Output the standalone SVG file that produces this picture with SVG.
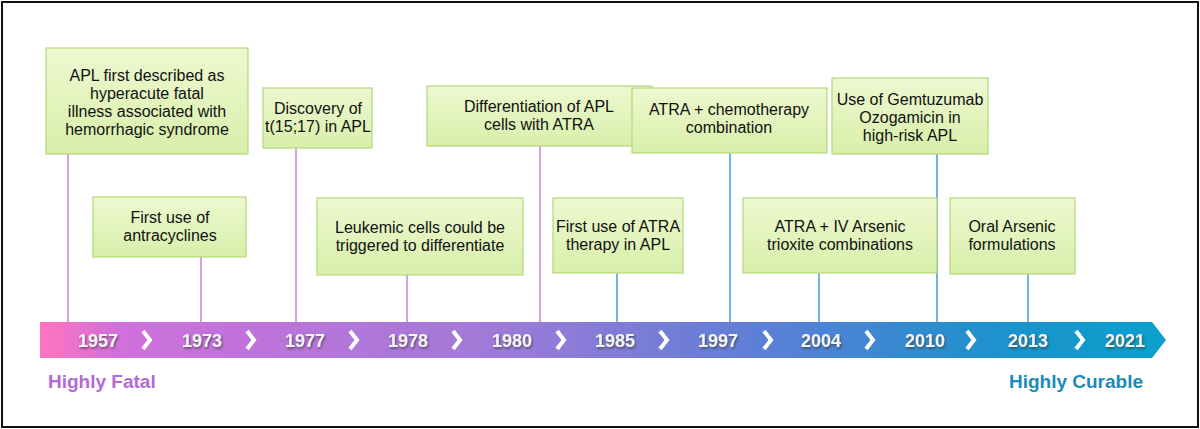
<svg xmlns="http://www.w3.org/2000/svg" width="1200" height="429" viewBox="0 0 1200 429">
<defs>
<linearGradient id="bar" x1="0" x2="1" y1="0" y2="0">
<stop offset="0" stop-color="#ff74c0"/><stop offset="0.07" stop-color="#d070dc"/><stop offset="0.4" stop-color="#a07ad8"/><stop offset="0.65" stop-color="#5a7fd6"/><stop offset="0.85" stop-color="#1c92cc"/><stop offset="1" stop-color="#0aa0cc"/>
</linearGradient>
<linearGradient id="box" x1="0" x2="0" y1="0" y2="1">
<stop offset="0" stop-color="#eef8d0"/><stop offset="1" stop-color="#d8efaa"/>
</linearGradient>
<filter id="sh" x="-10%" y="-20%" width="130%" height="150%"><feDropShadow dx="1" dy="1.5" stdDeviation="1" flood-color="#333" flood-opacity="0.7"/></filter>
</defs>
<style>
.b{fill:url(#box);stroke:#b2d87a;stroke-width:1.2}
.t{font-family:"Liberation Sans",Arial,sans-serif;font-size:16px;fill:#111;text-anchor:middle}
.y{font-family:"Liberation Sans",Arial,sans-serif;font-size:18px;font-weight:bold;fill:#f4f4f4;text-anchor:middle;filter:url(#sh)}
.c{fill:none;stroke:#fff;stroke-width:4}
.p{stroke:#c084e0;stroke-width:1.5}
.q{stroke:#4a9ad8;stroke-width:1.5}
</style>
<rect x="2" y="2" width="1196" height="425" fill="#fff" stroke="#111" stroke-width="2"/>
<g id="connectors">
<line class="p" x1="68" y1="154" x2="68" y2="322"/>
<line class="p" x1="201" y1="257" x2="201" y2="322"/>
<line class="p" x1="296" y1="148" x2="296" y2="322"/>
<line class="p" x1="407" y1="275" x2="407" y2="322"/>
<line class="p" x1="540" y1="146" x2="540" y2="322"/>
<line class="q" x1="617" y1="273" x2="617" y2="322"/>
<line class="q" x1="730" y1="153" x2="730" y2="322"/>
<line class="q" x1="819" y1="273" x2="819" y2="322"/>
<line class="q" x1="937" y1="154" x2="937" y2="322"/>
<line class="q" x1="1028" y1="274" x2="1028" y2="322"/>
</g>
<g id="timeline">
<polygon points="40,322 1152,322 1166,340 1152,358 40,358" fill="url(#bar)"/>
<g class="y">
<text x="98" y="347">1957</text><text x="202" y="347">1973</text><text x="305" y="347">1977</text><text x="408" y="347">1978</text><text x="512" y="347">1980</text><text x="615" y="347">1985</text><text x="718" y="347">1997</text><text x="821" y="347">2004</text><text x="925" y="347">2010</text><text x="1028" y="347">2013</text><text x="1125" y="347">2021</text>
</g>
<g class="c">
<polyline points="143,331 150,340 143,349"/><polyline points="247,331 254,340 247,349"/><polyline points="350,331 357,340 350,349"/><polyline points="453,331 460,340 453,349"/><polyline points="557,331 564,340 557,349"/><polyline points="660,331 667,340 660,349"/><polyline points="764,331 771,340 764,349"/><polyline points="866,331 873,340 866,349"/><polyline points="967,331 974,340 967,349"/><polyline points="1076,331 1083,340 1076,349"/>
</g>
<text x="48" y="388" font-family="Liberation Sans,Arial,sans-serif" font-size="19" font-weight="bold" fill="#b469d4">Highly Fatal</text>
<text x="1143" y="388" font-family="Liberation Sans,Arial,sans-serif" font-size="19" font-weight="bold" fill="#1a8ab8" text-anchor="end">Highly Curable</text>
</g>
<g id="n1"><rect class="b" x="46" y="48" width="202" height="106"/><text class="t" x="147" y="81">APL first described as</text><text class="t" x="147" y="99">hyperacute fatal</text><text class="t" x="147" y="117">illness associated with</text><text class="t" x="147" y="135">hemorrhagic syndrome</text></g>
<g id="n2"><rect class="b" x="93" y="197" width="153" height="60"/><text class="t" x="170" y="223">First use of</text><text class="t" x="170" y="241">antracyclines</text></g>
<g id="n3"><rect class="b" x="263" y="88" width="109" height="60"/><text class="t" x="318" y="114">Discovery of</text><text class="t" x="318" y="132">t(15;17) in APL</text></g>
<g id="n4"><rect class="b" x="317" y="198" width="206" height="77"/><text class="t" x="420" y="233">Leukemic cells could be</text><text class="t" x="420" y="251">triggered to differentiate</text></g>
<g id="n5"><rect class="b" x="427" y="86" width="225" height="60"/><text class="t" x="539" y="112">Differentiation of APL</text><text class="t" x="539" y="130">cells with ATRA</text></g>
<g id="n6"><rect class="b" x="553" y="198" width="130" height="75"/><text class="t" x="618" y="232">First use of ATRA</text><text class="t" x="618" y="250">therapy in APL</text></g>
<g id="n7"><rect class="b" x="632" y="88" width="195" height="65"/><text class="t" x="729" y="115">ATRA + chemotherapy</text><text class="t" x="729" y="133">combination</text></g>
<g id="n8"><rect class="b" x="743" y="198" width="194" height="75"/><text class="t" x="840" y="232">ATRA + IV Arsenic</text><text class="t" x="840" y="250">trioxite combinations</text></g>
<g id="n9"><rect class="b" x="832" y="78" width="156" height="76"/><text class="t" x="910" y="105">Use of Gemtuzumab</text><text class="t" x="910" y="123">Ozogamicin in</text><text class="t" x="910" y="141">high-risk APL</text></g>
<g id="n10"><rect class="b" x="950" y="198" width="125" height="76"/><text class="t" x="1012" y="232">Oral Arsenic</text><text class="t" x="1012" y="250">formulations</text></g>
</svg>
